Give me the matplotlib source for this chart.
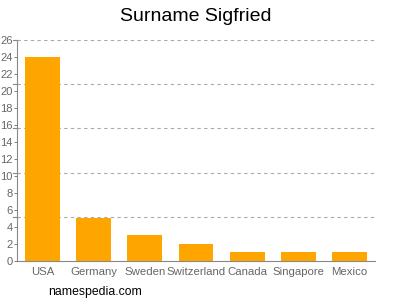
import numpy as np
import matplotlib.pyplot as plt

plt.rcParams['font.family'] = ['Liberation Sans', 'DejaVu Sans']

countries = ['USA', 'Germany', 'Sweden', 'Switzerland', 'Canada', 'Singapore', 'Mexico']
counts = [24, 5, 3, 2, 1, 1, 1]
yticks = list(range(0, 27, 2))

fig = plt.figure(figsize=(4, 3), dpi=100)
ax = fig.add_axes([0.0425, 0.13, 0.895, 0.737])

x = np.arange(len(countries))
ax.bar(x, counts, width=0.68, color='#FFA500', zorder=2)

ax.set_xlim(-0.5, len(countries) - 0.5)
ax.set_ylim(0, 26)
ax.set_xticks(x)
ax.set_xticklabels(countries)
ax.set_yticks(yticks)

# dashed grid at fifths of the axis
for g in np.linspace(0, 26, 6)[1:]:
    ax.axhline(g, color='#aaaaaa', linestyle=(0, (3, 3)), linewidth=0.8, zorder=1)
    ax.plot([-0.5 - 0.08, -0.5], [g, g], color='#888888', linewidth=0.8, clip_on=False)

for s in ['top', 'right']:
    ax.spines[s].set_visible(False)
ax.spines['left'].set_color('#888888')
ax.spines['bottom'].set_color('#888888')
ax.tick_params(axis='y', labelsize=8, colors='#666666', length=2, width=0.6, pad=1)
ax.tick_params(axis='x', labelsize=8.2, colors='#666666', length=0, pad=4)

fig.text(0.49, 0.945, 'Surname Sigfried', ha='center', va='center', fontsize=14)
fig.text(0.12, 0.027, 'namespedia.com', ha='left', va='center', fontsize=8.8)

fig.savefig('out.png', dpi=100)
